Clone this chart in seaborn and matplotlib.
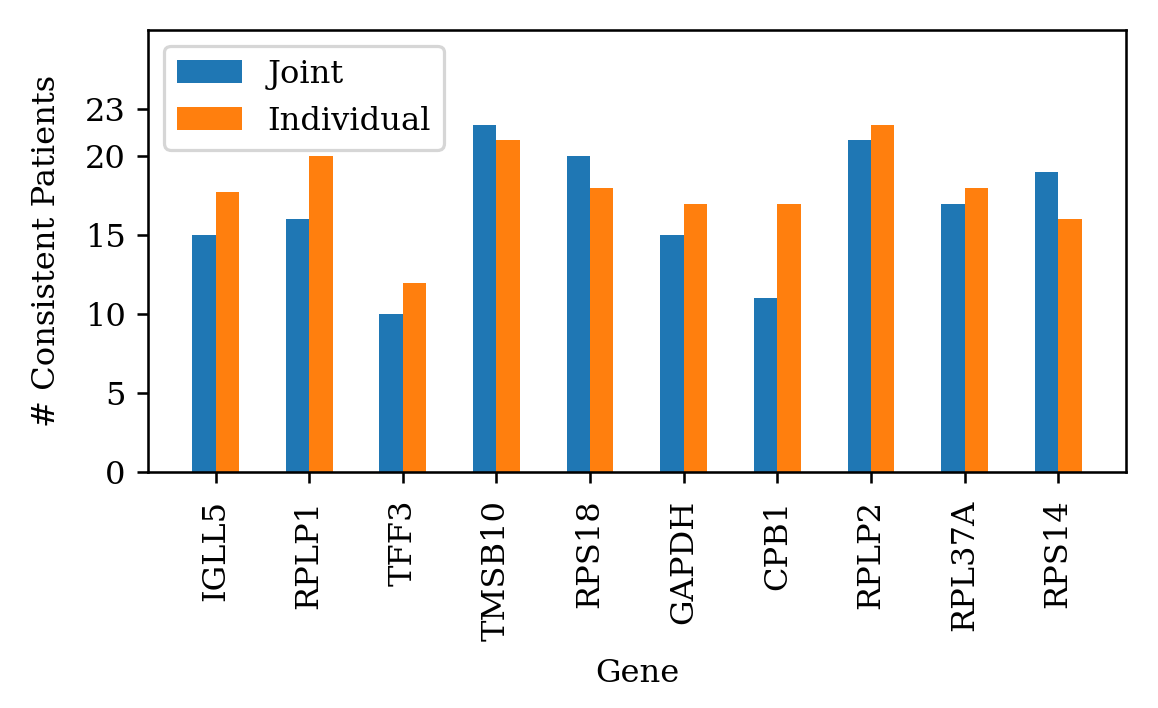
import matplotlib
matplotlib.use("Agg")
import matplotlib.pyplot as plt
import pandas as pd
import seaborn as sns

genes = ["IGLL5", "RPLP1", "TFF3", "TMSB10", "RPS18", "GAPDH", "CPB1", "RPLP2", "RPL37A", "RPS14"]
joint = [15, 16, 10, 22, 20, 15, 11, 21, 17, 19]
individual = [17.75, 20, 12, 21, 18, 17, 17, 22, 18, 16]
yticks = [0, 5, 10, 15, 20, 23]

plt.rcParams["font.family"] = ["DejaVu Serif"]
plt.rcParams["font.size"] = 10

df = pd.DataFrame({
    "Gene": genes * 2,
    "value": joint + individual,
    "method": ["Joint"] * len(genes) + ["Individual"] * len(genes),
})

DPI = 231.6
fig = plt.figure(figsize=(1158 / DPI, 708 / DPI), dpi=DPI)
ax = fig.add_axes([0.128, 0.333, 0.844, 0.625])
sns.barplot(data=df, x="Gene", y="value", hue="method", order=genes,
            hue_order=["Joint", "Individual"], palette=["#1f77b4", "#ff7f0e"],
            width=0.5, saturation=1, errorbar=None, ax=ax)

ax.set_xlim(-0.72, len(genes) - 1 + 0.72)
ax.set_ylim(0, 28)
ax.set_yticks(yticks)
ax.tick_params(axis="x", rotation=90, pad=5)
ax.set_xlabel("Gene", labelpad=5.5)
ax.set_ylabel("# Consistent Patients", labelpad=7)
ax.legend(loc="upper left", title=None)

fig.savefig("out.png", dpi=DPI)
plt.close(fig)
